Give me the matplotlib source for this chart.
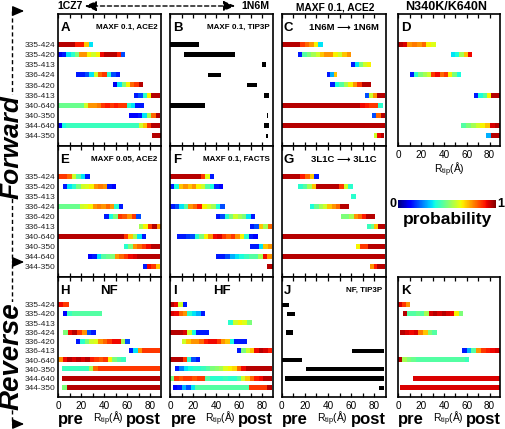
import matplotlib
matplotlib.use("Agg")
import matplotlib.pyplot as plt
import numpy as np
from matplotlib.ticker import MultipleLocator
from matplotlib.patches import FancyArrowPatch
from matplotlib.lines import Line2D
from matplotlib.cm import ScalarMappable
from matplotlib.colors import Normalize

plt.rcParams['font.family'] = ['Liberation Sans', 'DejaVu Sans']
plt.rcParams['mathtext.fontset'] = 'custom'
plt.rcParams['mathtext.rm'] = 'Liberation Sans'
plt.rcParams['mathtext.it'] = 'Liberation Sans:italic'

rows = ["335-424", "335-420", "335-413", "336-424", "336-420",
        "336-413", "340-640", "340-350", "344-640", "344-350"]

# each bar: (start R_tip, end R_tip, probabilities along the bar)
A = {
    "335-424": (0, 30, [0.95, 0.95, 0.95, 0.95, 0.88, 0.88, 0.7, 0.35]),
    "335-420": (0, 58, [0.1, 0.15, 0.35, 0.4, 0.5, 0.75, 0.75, 0.65, 0.6, 0.65, 0.9, 0.95, 0.95, 0.95, 0.88, 0.2]),
    "336-424": (16, 54, [0.15, 0.15, 0.2, 0.35, 0.6, 0.8, 0.85, 0.4, 0.2, 0.15]),
    "336-420": (48, 74, [0.1, 0.35, 0.5, 0.65, 0.8, 0.85, 0.95]),
    "336-413": (66, 88.5, [0.15, 0.2, 0.4, 0.65, 0.95, 0.95]),
    "340-640": (0, 74, [0.48] * 6 + [0.6, 0.75, 0.75, 0.78, 0.85, 0.88, 0.85, 0.88, 0.85, 0.85, 0.4, 0.35, 0.15, 0.15]),
    "340-350": (62, 88.5, [0.12, 0.12, 0.15, 0.35, 0.55, 0.8, 0.95]),
    "344-640": (0, 88.5, [0.1, 0.38] + [0.42] * 17 + [0.6, 0.7, 0.85, 0.95, 0.95]),
    "344-350": (81.5, 88.5, [0.95, 0.95]),
}
B = {
    "335-424": (0, 25), "335-420": (12, 56.5), "335-413": (80, 83),
    "336-424": (33, 44), "336-420": (66.5, 75.5), "336-413": (81.5, 85.7),
    "340-640": (0, 30), "340-350": (84, 85.5), "344-640": (82, 86.3),
    "344-350": (83, 85.5),
}
C = {
    "335-424": (0, 35, [0.95, 0.95, 0.95, 0.95, 0.85, 0.8, 0.75, 0.65, 0.35]),
    "335-420": (14.5, 59.5, [0.15, 0.45, 0.5, 0.55, 0.6, 0.7, 0.75, 0.75, 0.65, 0.6, 0.7, 0.75]),
    "335-413": (59.5, 76.5, [0.15, 0.35, 0.5, 0.6, 0.65]),
    "336-424": (39.5, 48, [0.15, 0.3, 0.7]),
    "336-420": (41.5, 76.5, [0.15, 0.38, 0.45, 0.55, 0.65, 0.75, 0.85, 0.95, 0.95]),
    "336-413": (72, 88.5, [0.2, 0.6, 0.75, 0.95, 0.95]),
    "340-640": (0, 86.6, [0.95] * 17 + [0.9, 0.88, 0.85, 0.85, 0.4]),
    "340-350": (78, 88.5, [0.2, 0.8, 0.95]),
    "344-640": (0, 88.5, [0.95]),
    "344-350": (80, 88.5, [0.6, 0.9, 0.95]),
}
D = {
    "335-424": (0, 32.6, [0.95, 0.92, 0.75, 0.78, 0.75, 0.8, 0.65, 0.62]),
    "335-420": (46, 64, [0.35, 0.38, 0.55, 0.7, 0.9]),
    "336-424": (10, 54.5, [0.15, 0.4, 0.5, 0.55, 0.6, 0.85, 0.9, 0.8, 0.85, 0.65, 0.5, 0.38]),
    "336-413": (66, 88.5, [0.15, 0.38, 0.45, 0.65, 0.95, 0.95]),
    "344-640": (54.5, 88.5, [0.45, 0.5, 0.55, 0.6, 0.65, 0.7, 0.92, 0.95]),
    "344-350": (76.7, 88.5, [0.3, 0.95, 0.95]),
}
E = {
    "335-424": (0, 27.7, [0.85, 0.85, 0.8, 0.6, 0.45, 0.35, 0.15]),
    "335-420": (4.4, 50, [0.15, 0.35, 0.4, 0.5, 0.6, 0.62, 0.65, 0.75, 0.78, 0.75, 0.15, 0.12]),
    "336-424": (0, 56, [0.48] * 5 + [0.6, 0.62, 0.65, 0.75, 0.78, 0.75, 0.8, 0.75, 0.4, 0.15]),
    "336-420": (40, 72, [0.15, 0.38, 0.5, 0.85, 0.82, 0.75, 0.85, 0.2]),
    "336-413": (70, 88.5, [0.55, 0.65, 0.85, 0.95, 0.75]),
    "340-640": (0, 75.8, [0.95] * 15 + [0.85, 0.7, 0.55, 0.35, 0.15]),
    "340-350": (57.4, 88.5, [0.4, 0.5, 0.75, 0.8, 0.85, 0.9, 0.95, 0.95]),
    "344-640": (26, 88.5, [0.12, 0.15, 0.35, 0.45, 0.48, 0.5, 0.75, 0.8, 0.85, 0.9, 0.92, 0.95, 0.95, 0.95, 0.95, 0.95]),
    "344-350": (74, 88.5, [0.15, 0.9, 0.85, 0.7]),
}
F = {
    "335-424": (0, 38, [0.95] * 7 + [0.85, 0.62, 0.15]),
    "335-420": (0, 45.8, [0.15, 0.38, 0.7, 0.75, 0.7, 0.75, 0.65, 0.6, 0.45, 0.38, 0.15, 0.12]),
    "336-424": (0, 47.8, [0.15, 0.2, 0.35, 0.45, 0.75, 0.8, 0.88, 0.65, 0.6, 0.55, 0.38, 0.2]),
    "336-420": (40, 74, [0.15, 0.2, 0.4, 0.5, 0.6, 0.55, 0.5, 0.35, 0.15]),
    "336-413": (69.7, 88.5, [0.15, 0.2, 0.7, 0.55, 0.8]),
    "340-640": (6, 76.4, [0.15, 0.15, 0.18, 0.2, 0.4, 0.5, 0.65, 0.75, 0.9, 0.92, 0.85, 0.8, 0.85, 0.75, 0.65, 0.4, 0.15, 0.12]),
    "340-350": (69.7, 88.5, [0.15, 0.15, 0.35, 0.7, 0.75]),
    "344-640": (40, 88.5, [0.15, 0.15, 0.2, 0.3, 0.35, 0.38, 0.42, 0.45, 0.45, 0.55, 0.9, 0.75]),
    "344-350": (84, 88.5, [0.95]),
}
G = {
    "335-424": (0, 31, [0.95, 0.95, 0.95, 0.95, 0.88, 0.8, 0.7, 0.15]),
    "335-420": (14.5, 61.8, [0.4, 0.45, 0.55, 0.7, 0.95, 0.95, 0.95, 0.95, 0.95, 0.85, 0.6, 0.4]),
    "335-413": (59.5, 63.8, [0.4]),
    "336-424": (24.8, 58, [0.38, 0.48, 0.55, 0.6, 0.7, 0.75, 0.8, 0.95, 0.95]),
    "336-420": (51, 80, [0.5, 0.5, 0.55, 0.75, 0.8, 0.88, 0.95, 0.95]),
    "336-413": (73.5, 88.5, [0.42, 0.48, 0.7, 0.95, 0.95]),
    "340-640": (0, 88.5, [0.95]),
    "340-350": (64, 88.5, [0.65, 0.85, 0.85, 0.95, 0.95, 0.95, 0.95]),
    "344-640": (0, 88.5, [0.95]),
    "344-350": (76, 88.5, [0.75, 0.88, 0.95, 0.95]),
}
H = {
    "335-424": (0, 8.7, [0.9, 0.85]),
    "335-420": (4.4, 38, [0.12, 0.42, 0.45, 0.45, 0.45, 0.45, 0.45, 0.45, 0.45]),
    "336-424": (4.4, 32.7, [0.5, 0.9, 0.95, 0.85, 0.75, 0.2, 0.15]),
    "336-420": (16, 62.7, [0.15, 0.4, 0.5, 0.6, 0.62, 0.75, 0.8, 0.85, 0.9, 0.9, 0.55, 0.2]),
    "336-413": (62, 88.5, [0.15, 0.35, 0.75, 0.85, 0.85, 0.85, 0.85]),
    "340-640": (0, 58.3, [0.75, 0.9, 0.95, 0.92, 0.95, 0.92, 0.95, 0.88, 0.85, 0.82, 0.85, 0.65, 0.5, 0.45, 0.42]),
    "340-350": (3.5, 88.5, [0.42] * 6 + [0.55, 0.8] + [0.85] * 14),
    "344-640": (3.5, 88.5, [0.95]),
    "344-350": (3.5, 88.5, [0.5] + [0.95] * 20),
}
I = {
    "335-424": (0, 14.3, [0.95, 0.9, 0.6, 0.15]),
    "335-420": (0, 30, [0.92, 0.9, 0.8, 0.75, 0.4, 0.35, 0.3, 0.15]),
    "335-413": (50, 70.5, [0.4, 0.6, 0.65, 0.62, 0.5]),
    "336-424": (0, 34, [0.95, 0.95, 0.95, 0.92, 0.6, 0.38, 0.15, 0.15, 0.15]),
    "336-420": (10, 66, [0.6, 0.7, 0.75, 0.75, 0.8, 0.88, 0.9, 0.9, 0.85, 0.75, 0.7, 0.38, 0.15, 0.15, 0.15]),
    "336-413": (58, 88.5, [0.15, 0.5, 0.6, 0.7, 0.9, 0.95, 0.92, 0.88]),
    "340-640": (0, 26, [0.95, 0.95, 0.95, 0.85, 0.4, 0.2, 0.15]),
    "340-350": (4, 88.5, [0.15, 0.25, 0.35, 0.38, 0.4, 0.4, 0.42, 0.45, 0.5, 0.52, 0.55, 0.62, 0.65, 0.68, 0.8, 0.9, 0.95, 0.95, 0.95, 0.95, 0.95, 0.95]),
    "344-640": (0, 88.5, [0.5, 0.85, 0.82, 0.85, 0.85, 0.82, 0.85, 0.85, 0.45, 0.4, 0.4, 0.4, 0.42, 0.4, 0.4, 0.45, 0.6, 0.7, 0.8, 0.88, 0.9, 0.95, 0.95]),
    "344-350": (2.6, 88.5, [0.12, 0.15, 0.3, 0.2, 0.35] + [0.45] * 12 + [0.85, 0.85, 0.85, 0.85, 0.95]),
}
J = {
    "335-424": (0, 6.4), "335-420": (5, 11.7), "336-424": (3.8, 10),
    "336-413": (60.3, 88.5), "340-640": (0, 17.5), "340-350": (21, 88.5),
    "344-640": (3, 88.5), "344-350": (83.7, 88.5),
}
K = {
    "335-424": (0, 10.5, [0.92, 0.85, 0.75]),
    "335-420": (3.8, 56, [0.95, 0.45, 0.45, 0.48, 0.45, 0.55, 0.92, 0.95, 0.92, 0.95, 0.92, 0.9, 0.65, 0.5]),
    "336-424": (1.7, 33.8, [0.95, 0.92, 0.9, 0.92, 0.78, 0.7, 0.5, 0.45]),
    "336-413": (55.7, 88.5, [0.15, 0.3, 0.45, 0.75, 0.85, 0.88, 0.9, 0.92]),
    "340-640": (0, 62, [0.95, 0.55, 0.5, 0.48] + [0.45] * 11 + [0.42]),
    "344-640": (12.5, 88.5, [0.92]),
    "344-350": (1.7, 88.5, [0.92]),
}

W, Hpx = 506, 429
cols = [(58, 161), (170.5, 273), (281.5, 385.5), (398.3, 500.5)]
rws = [(14, 146), (146, 277), (277, 397)]
bh = 0.46

fig = plt.figure(figsize=(5.06, 4.29), dpi=100)


def fpos(x, y):
    return x / W, 1 - y / Hpx


def panel(col, row, data, letter, note=None, black=False, note_style="small"):
    x0, x1 = cols[col]
    y0, y1 = rws[row]
    ax = fig.add_axes([x0 / W, 1 - y1 / Hpx, (x1 - x0) / W, (y1 - y0) / Hpx])
    for i, lab in enumerate(rows):
        if lab not in data:
            continue
        y = 9 - i
        if black:
            s, e = data[lab]
            ax.barh(y, e - s, left=s, height=bh, color="black")
        else:
            s, e, p = data[lab]
            ax.imshow(np.array([p]), extent=[s, e, y - bh / 2, y + bh / 2], cmap="jet",
                      vmin=0, vmax=1, aspect="auto", interpolation="nearest")
    ax.set_xlim(0, 89.5)
    ax.set_ylim(-1, 12)
    ax.xaxis.set_major_locator(MultipleLocator(20))
    ax.xaxis.set_minor_locator(MultipleLocator(10))
    ax.tick_params(axis="x", which="both", direction="in", top=True, length=3, width=0.9,
                   labelsize=7.2, pad=3, labelbottom=False)
    ax.set_yticks(range(10))
    if col == 0:
        ax.set_yticklabels(rows[::-1], fontsize=6, color="#222222")
    else:
        ax.set_yticklabels([])
    ax.tick_params(axis="y", length=0, pad=2)
    for sp in ax.spines.values():
        sp.set_linewidth(1.2)
    h = y1 - y0
    ty = 1 - 13.8 / h
    ax.text(2.5 / (x1 - x0), ty, letter, transform=ax.transAxes, fontsize=9.5,
            fontweight="bold", va="center", ha="left")
    if note is not None:
        if note_style == "small":
            ax.text(0.965, ty, note, transform=ax.transAxes, fontsize=5.8, fontweight="bold",
                    va="center", ha="right")
        elif note_style == "big":
            ax.text(0.5, ty, note, transform=ax.transAxes, fontsize=9.5, fontweight="bold",
                    va="center", ha="center")
        else:
            ax.text(0.6, ty, note, transform=ax.transAxes, fontsize=6.8, fontweight="bold",
                    va="center", ha="center")
    return ax


axA = panel(0, 0, A, "A", "MAXF 0.1, ACE2")
axB = panel(1, 0, B, "B", "MAXF 0.1, TIP3P", black=True)
axC = panel(2, 0, C, "C", "1N6M \u27f6 1N6M", note_style="arrow")
axD = panel(3, 0, D, "D")
axE = panel(0, 1, E, "E", "MAXF 0.05, ACE2")
axF = panel(1, 1, F, "F", "MAXF 0.1, FACTS")
axG = panel(2, 1, G, "G", "3L1C \u27f6 3L1C", note_style="arrow")
axH = panel(0, 2, H, "H", "NF", note_style="big")
axI = panel(1, 2, I, "I", "HF", note_style="big")
axJ = panel(2, 2, J, "J", "NF, TIP3P", black=True)
axK = panel(3, 2, K, "K")

axD.tick_params(axis="x", labelbottom=True)
axD.set_xlabel(r"R$_{\rm tip}$(Å)", fontsize=7.5, labelpad=0)

for ax in (axH, axI, axJ, axK):
    ax.tick_params(axis="x", labelbottom=True)
    ax.text(0.0, -0.19, "pre", transform=ax.transAxes, fontsize=12, fontweight="bold",
            ha="left", va="center")
    ax.text(1.0, -0.19, "post", transform=ax.transAxes, fontsize=12, fontweight="bold",
            ha="right", va="center")
    ax.text(0.49, -0.185, r"R$_{\rm tip}$(Å)", transform=ax.transAxes, fontsize=7.5,
            ha="center", va="center")

# colorbar
cx0, cx1, cy0, cy1 = 398.3, 496, 200, 207.7
cax = fig.add_axes([cx0 / W, 1 - cy1 / Hpx, (cx1 - cx0) / W, (cy1 - cy0) / Hpx])
cb = fig.colorbar(ScalarMappable(Normalize(0, 1), cmap="jet"), cax=cax, orientation="horizontal")
cb.set_ticks([])
cb.outline.set_linewidth(0)
fig.text(*fpos(393, 204), "0", fontsize=9, fontweight="bold", ha="center", va="center")
fig.text(*fpos(501, 204), "1", fontsize=9, fontweight="bold", ha="center", va="center")
fig.text(*fpos(447, 219), "probability", fontsize=12.5, fontweight="bold", ha="center", va="center")

# column headers
fig.text(*fpos(57, 6), "1CZ7", fontsize=7.6, fontweight="bold", ha="left", va="center")
fig.text(*fpos(270, 6), "1N6M", fontsize=7.6, fontweight="bold", ha="right", va="center")
fig.add_artist(FancyArrowPatch(fpos(82, 6), fpos(238, 6), transform=fig.transFigure,
                               arrowstyle="<|-|>,head_length=7,head_width=3", linestyle=(0, (3, 2)),
                               lw=1, color="black", mutation_scale=1))
fig.text(*fpos(335.5, 7), "MAXF 0.1, ACE2", fontsize=7.4, fontweight="bold", ha="center", va="center")
fig.text(*fpos(446.5, 7), "N340K/K640N", fontsize=9, fontweight="bold", ha="center", va="center")

# left direction labels
fig.add_artist(Line2D([12 / W, 12 / W], [1 - 11 / Hpx, 1 - 262 / Hpx], ls=(0, (3, 2)), lw=1,
                      color="black", transform=fig.transFigure))
fig.add_artist(Line2D([12 / W, 12 / W], [1 - 264 / Hpx, 1 - 424 / Hpx], ls=(0, (3, 2)), lw=1,
                      color="black", transform=fig.transFigure))
for yy in (11, 262, 424):
    fig.add_artist(FancyArrowPatch(fpos(11.5, yy), fpos(27, yy), transform=fig.transFigure,
                                   arrowstyle="-|>,head_length=7,head_width=3", lw=1,
                                   color="black", mutation_scale=1))
fig.text(*fpos(11.5, 147), "Forward", fontsize=19, fontweight="bold", fontstyle="italic",
         rotation=90, ha="center", va="center",
         bbox=dict(facecolor="white", edgecolor="none", pad=0))
fig.text(*fpos(11.5, 356), "Reverse", fontsize=20, fontweight="bold", fontstyle="italic",
         rotation=90, ha="center", va="center",
         bbox=dict(facecolor="white", edgecolor="none", pad=0))

fig.savefig("out.png", dpi=100)
